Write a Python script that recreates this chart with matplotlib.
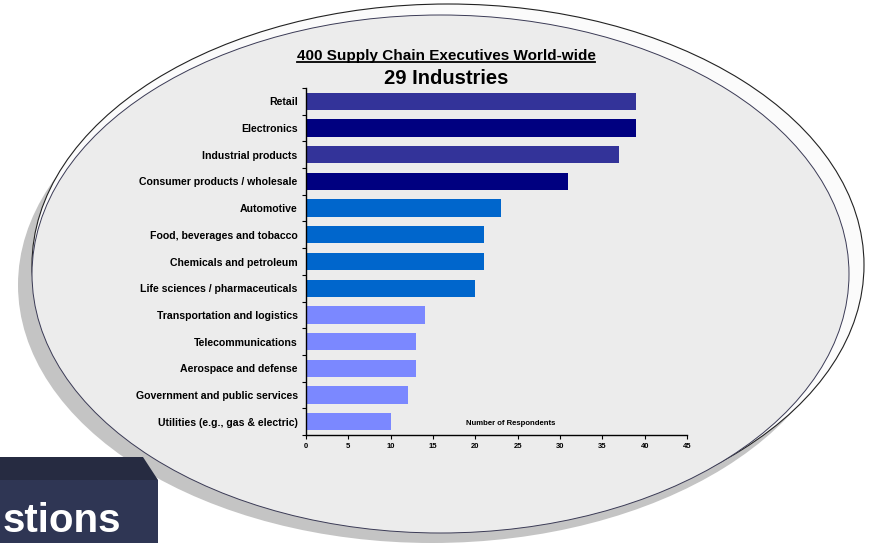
import matplotlib.pyplot as plt
from matplotlib.patches import Ellipse, Polygon, Rectangle
from matplotlib.lines import Line2D
import numpy as np

plt.rcParams['font.family'] = ['Liberation Sans', 'DejaVu Sans']

# Datos
industries = ['Retail', 'Electronics', 'Industrial products',
              'Consumer products / wholesale', 'Automotive',
              'Food, beverages and tobacco', 'Chemicals and petroleum',
              'Life sciences / pharmaceuticals', 'Transportation and logistics',
              'Telecommunications', 'Aerospace and defense',
              'Government and public services', 'Utilities (e.g., gas & electric)']
respondents = [39, 39, 37, 31, 23, 21, 21, 20, 14, 13, 13, 12, 10]
color_group = [0, 1, 0, 1, 2, 2, 2, 2, 3, 3, 3, 3, 3]
x_ticks = [0, 5, 10, 15, 20, 25, 30, 35, 40, 45]

palette = ['#333399', '#000080', '#0066CC', '#7B88FF']

W, H = 871, 543
fig = plt.figure(figsize=(W / 100, H / 100), dpi=100)

# Fondo: elipse tipo diapositiva
bg = fig.add_axes([0, 0, 1, 1])
bg.set_xlim(0, W)
bg.set_ylim(H, 0)
bg.axis('off')

bg.add_patch(Ellipse((432, 285), 828, 516, facecolor='#c4c4c4', edgecolor='none'))
bg.add_patch(Ellipse((448, 265), 832, 522, facecolor='#fbfbfb', edgecolor='#222222', lw=0.8))
bg.add_patch(Ellipse((440.5, 274), 817, 518, facecolor='#ececec', edgecolor='#3a3a55', lw=0.7))

# Caja oscura abajo a la izquierda
bg.add_patch(Rectangle((0, 480), 158, 70, facecolor='#2f3654', edgecolor='none'))
bg.add_patch(Polygon([(0, 457), (143, 457), (158, 480), (0, 480)],
                     closed=True, facecolor='#262b41', edgecolor='none'))
bg.text(3, 540, 'stions', color='white', fontsize=29, fontweight='bold',
        ha='left', va='bottom')

# Títulos
t1 = bg.text(446, 56, '400 Supply Chain Executives World-wide', fontsize=11,
             fontweight='bold', ha='center', va='center')
bg.text(446, 78, '29 Industries', fontsize=14.5, fontweight='bold',
        ha='center', va='center')

# Gráfico de barras
ax = fig.add_axes([306 / W, 1 - 435 / H, 381 / W, 347 / H])
ax.patch.set_alpha(0)
y = np.arange(len(industries))
ax.barh(y, respondents, height=0.65, color=[palette[g] for g in color_group])
ax.set_ylim(len(industries) - 0.54, -0.48)
ax.set_xlim(0, 45)
ax.set_xticks(x_ticks)
ax.set_xticklabels([str(v) for v in x_ticks], fontsize=5.5, fontweight='bold')
ax.set_yticks(y)
ax.set_yticklabels(industries, fontsize=7.6, fontweight='bold')
ax.set_yticks(np.arange(-0.5, len(industries), 1), minor=True)
ax.tick_params(axis='y', which='major', length=0, pad=6)
ax.tick_params(axis='y', which='minor', length=3, width=0.8, direction='out')
ax.tick_params(axis='x', length=3, width=0.8, direction='out', pad=3)
for s in ['top', 'right']:
    ax.spines[s].set_visible(False)
ax.spines['left'].set_linewidth(1)
ax.spines['bottom'].set_linewidth(1)
ax.text(0.537, 0.033, 'Number of Respondents', transform=ax.transAxes,
        fontsize=5.6, fontweight='bold', ha='center', va='center')

# Subrayado del título
fig.canvas.draw()
bb = t1.get_window_extent().transformed(fig.transFigure.inverted())
fig.add_artist(Line2D([bb.x0, bb.x1], [bb.y0 + 0.001, bb.y0 + 0.001],
                      transform=fig.transFigure, color='black', lw=1.3))

fig.savefig('out.png', dpi=100)
